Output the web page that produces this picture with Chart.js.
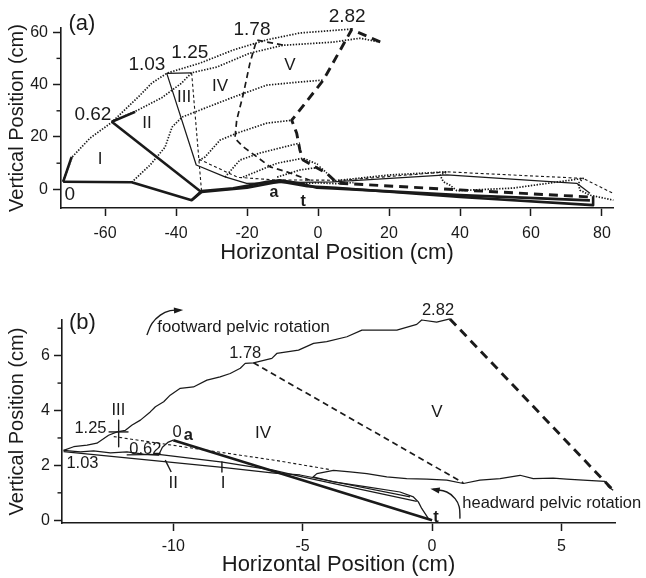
<!DOCTYPE html>
<html>
<head>
<meta charset="utf-8">
<script src="https://cdn.jsdelivr.net/npm/chart.js@4.4.0/dist/chart.umd.min.js"></script>
<style>
  body { margin: 0; background: #fff; }
  .panel { position: absolute; left: 0; }
</style>
</head>
<body>
<canvas id="chartA" class="panel" width="646" height="280" style="top:0"></canvas>
<canvas id="chartB" class="panel" width="646" height="298" style="top:280px"></canvas>
<script>
// ---- axis ticks ----
const xTicksA = [-60, -40, -20, 0, 20, 40, 60, 80];
const yTicksA = [0, 20, 40, 60];
const yMinorA = [10, 30, 50];
const xTicksB = [-10, -5, 0, 5];
const yTicksB = [0, 2, 4, 6];
const yMinorB = [1, 3, 5, 7];

// ---- panel (a): outlines at each frame time (cm) ----
const body000 = [[-71.8, 2.9], [-52.5, 2.7], [-35.6, -4.1], [-32.8, -1.0]];
const head000 = [[-71.8, 2.9], [-69.4, 12.4]];
const body062 = [[-58.1, 25.8], [-32.8, -1.1]];
const neck062 = [[-58.1, 25.8], [-51.5, 29.6]];
const tailLow1 = [[-35.6, -4.1], [-32.8, -0.6], [-23.9, 0.4], [-19.2, 1.6], [-14.4, 2.9], [-10.7, 3.5], [-5.1, 2.3], [-0.3, 0.6], [4.2, 0.4], [40, -2.2], [76.6, -4.2]];
const tailLow2 = [[-32.8, -1.0], [-20, 0.6], [-10.7, 3.0], [-3, 1.2], [5, 0.6], [40, -2.9], [77.5, -6.0], [77.5, -2.6]];
const frame103 = [[-35.6, 44.5], [-42.6, 44.3], [-34.3, 9.3], [-26.2, 4.8], [-20.1, 2.3], [-10, 2.6], [4.2, 2.9], [36.3, 5.5], [72.9, 2.3], [76.6, -1.5]];
const frame125 = [[-35.6, 44.5], [-32.8, -0.9]];
const frame125Tail = [[-33.5, 11.5], [-22.6, 4.6], [-12, 3.6], [7, 3.5], [36.3, 6.7], [74.7, 4.2], [83.1, -1.5]];
const frame178 = [[-9.9, 55.1], [-17.3, 57], [-19.2, 48.1], [-21.0, 36.6], [-22.9, 26.5], [-23.4, 19.5], [-21.1, 16.3], [-17.3, 12.5], [-13.5, 8.6], [-8.8, 6.7], [-2.3, 3.5]];
const frame282 = [[17.5, 56.3], [9.5, 61], [1.5, 41.7], [-7.4, 26.4], [-6, 21.4], [-5.1, 15], [-4.2, 11.2], [2.5, 6.1], [5.4, 2.4], [40, -0.2], [76.6, -2.9]];

// ---- panel (a): dotted point trajectories ----
const trackHead = [[-71.8, 3.1], [-69.3, 12.3], [-64.2, 19.6], [-58, 25.7], [-50.1, 36], [-46.8, 40.6], [-42.5, 44.4], [-33.2, 48.2], [-23.9, 53.2], [-14.4, 57.1], [-5.1, 59.7], [9.5, 61.2]];
const trackNeck = [[-58.1, 25.8], [-50.7, 30.3], [-44, 35], [-38.5, 40.5], [-35.6, 44.5], [-28.5, 46.7], [-19.2, 52], [-9.9, 55], [4.2, 56.2], [11.8, 57.7], [17.5, 56.2]];
const trackMid1 = [[-52.5, 2.7], [-47.3, 9.3], [-43.1, 16.1], [-41.1, 23.8], [-38.3, 27.6], [-33.2, 30.3], [-23.9, 35.2], [-14.4, 39.8], [-5.1, 41], [1.4, 41.7]];
const trackMid2 = [[-33.5, 11], [-31.8, 12.4], [-27.6, 18.8], [-22.8, 21.5], [-14.4, 25.3], [-7.3, 26.4]];
const trackMid3 = [[-26.2, 4.7], [-22, 11.2], [-16.3, 13.9], [-5.1, 17.7]];
const trackMid4 = [[-21.1, 4.7], [-11.5, 10], [-4.2, 11.9], [0, 9.5]];
const trackMid5 = [[-11.5, 4.7], [-5.1, 7.4], [0.6, 8.5], [2.5, 6.2]];
const trackBase = [[-5, 2.2], [0, 2.5], [5, 2.2], [10, 2.6]];
const trackFins = [[4, 3.2], [20, 5.5], [36.3, 6.7], [34.4, 5.4], [35.3, 2.9], [37.2, 1.6], [39.1, -0.5], [55, 0.5], [74.7, 4.2], [73.3, 2.3], [73.8, -0.3], [76.6, -2.2], [83.2, -4.1]];

// ---- panel (b): pelvis paths (cm) ----
const pelvisUpper = [[-14.24, 2.55], [-13.85, 2.68], [-13.33, 2.74], [-12.95, 2.81], [-12.5, 3.1], [-12.17, 3.22], [-11.85, 3.28],
  [-11.59, 3.47], [-11.27, 3.65], [-10.89, 3.95], [-10.69, 4.14], [-10.37, 4.32], [-10.12, 4.56], [-9.73, 4.81], [-9.22, 4.86],
  [-8.7, 5.11], [-8.19, 5.23], [-7.8, 5.35], [-7.41, 5.54], [-7.22, 5.72], [-6.9, 5.74], [-6.19, 5.9], [-6.0, 6.08], [-5.16, 6.2],
  [-4.58, 6.45], [-4.07, 6.51], [-3.29, 6.69], [-2.71, 6.93], [-2.14, 6.93], [-1.36, 6.93], [-0.59, 7.14], [-0.4, 7.3], [0.18, 7.22], [0.69, 7.34]];
const pelvisLower = [[-14.24, 2.55], [-13.59, 2.49], [-13.08, 2.53], [-12.43, 2.46], [-11.79, 2.49], [-11.15, 2.41], [-10.57, 2.37],
  [-10.42, 2.66], [-10.19, 2.85], [-10.0, 2.92]];
const pelvisReturn = [[0, 0], [-0.14, 0.06], [-0.4, 0.43], [-0.53, 0.67], [-0.72, 0.85], [-1.24, 1.03], [-2.52, 1.22], [-3.81, 1.4],
  [-4.6, 1.58], [-4.45, 1.7], [-3.81, 1.82], [-3.17, 1.76], [-2.52, 1.7], [-1.75, 1.58], [-0.98, 1.52], [-0.2, 1.5], [0.57, 1.46],
  [1.21, 1.34], [1.85, 1.46], [2.63, 1.52], [3.4, 1.64], [3.91, 1.52], [4.68, 1.54], [5.2, 1.5], [5.84, 1.46], [6.68, 1.42], [6.81, 1.22], [7.0, 1.09]];
const line062 = [[-11.8, 2.38], [-10.57, 2.4], [-8.1, 2.12], [-6.1, 1.82], [-5.1, 1.6], [-0.59, 0.69]];
const line103 = [[-14.24, 2.5], [-8.1, 1.93], [-6.1, 1.72], [-5.1, 1.65], [-0.85, 0.85]];
const line000 = [[-10.0, 2.92], [0, 0]];
const line125 = [[-12.3, 3.05], [-9.2, 2.62], [-6.1, 2.19], [-3.9, 1.84]];
const line178 = [[-6.9, 5.74], [1.21, 1.36]];
const line282 = [[0.69, 7.34], [7.0, 1.09]];
const markIII = [[-12.11, 3.65], [-12.11, 2.68]];
const markIIIh = [[-12.5, 3.22], [-11.73, 3.22]];
const markII = [[-10.31, 2.19], [-10.08, 1.76]];
const markI = [[-8.12, 2.13], [-8.12, 1.76]];
const footwardArc = [[-11.02, 6.75], [-10.82, 7.18], [-10.5, 7.48], [-10.12, 7.64], [-9.73, 7.66]];
const headwardArc = [[1.08, 0.06], [1.05, 0.49], [0.89, 0.79], [0.57, 1.03], [0.05, 1.13]];

const INK = '#1a1a1a';
const FONT = "'Liberation Sans', Arial, Helvetica, sans-serif";

const lineStyles = {
  thick: { borderWidth: 2.6, borderDash: [] },
  solid: { borderWidth: 1.25, borderDash: [] },
  mark: { borderWidth: 1.4, borderDash: [] },
  arc: { borderWidth: 1.4, borderDash: [], tension: 0.4 },
  dotted: { borderWidth: 1.7, borderDash: [1.4, 1.5] },
  dashThin: { borderWidth: 1.1, borderDash: [3, 2.5] },
  dashMid: { borderWidth: 1.7, borderDash: [6, 4] },
  dashThick: { borderWidth: 2.9, borderDash: [9, 6] }
};

function path(points, kind) {
  return Object.assign({
    data: points.map(p => ({ x: p[0], y: p[1] })),
    showLine: true, pointRadius: 0, borderColor: INK, tension: 0,
    clip: false, fill: false, borderCapStyle: 'butt', borderJoinStyle: 'round'
  }, lineStyles[kind]);
}

// text labels placed in data units
const notesA = [
  { t: '(a)', x: -66.5, y: 63.1, s: 22 },
  { t: '0.62', x: -63.4, y: 28.4, s: 19 },
  { t: '1.03', x: -48.2, y: 47.4, s: 19 },
  { t: '1.25', x: -36.1, y: 52.0, s: 19 },
  { t: '1.78', x: -18.6, y: 60.8, s: 19 },
  { t: '2.82', x: 8.2, y: 65.8, s: 19 },
  { t: '0', x: -69.9, y: -2.2, s: 19 },
  { t: 'I', x: -61.4, y: 11.6, s: 17 },
  { t: 'II', x: -48.2, y: 25.3, s: 17 },
  { t: 'III', x: -37.7, y: 35.2, s: 17 },
  { t: 'IV', x: -27.6, y: 39.4, s: 17 },
  { t: 'V', x: -7.9, y: 47.4, s: 17 },
  { t: 'a', x: -12.4, y: -1.4, s: 16, b: true },
  { t: 't', x: -4.2, y: -4.8, s: 16, b: true }
];
const notesB = [
  { t: '(b)', x: -13.51, y: 7.19, s: 22 },
  { t: 'footward pelvic rotation', x: -10.62, y: 7.04, s: 16.8, a: 'left' },
  { t: '2.82', x: 0.23, y: 7.63, s: 16.5 },
  { t: '1.78', x: -7.22, y: 6.09, s: 16.5 },
  { t: '1.25', x: -13.2, y: 3.36, s: 16.5 },
  { t: 'III', x: -12.12, y: 4.01, s: 16.5 },
  { t: '1.03', x: -13.51, y: 2.08, s: 16.5 },
  { t: '0.62', x: -11.08, y: 2.59, s: 16.5 },
  { t: '0', x: -9.85, y: 3.21, s: 16.5 },
  { t: 'a', x: -9.42, y: 3.1, s: 16.5, b: true },
  { t: 'IV', x: -6.53, y: 3.18, s: 17 },
  { t: 'V', x: 0.19, y: 3.94, s: 17 },
  { t: 'II', x: -10.0, y: 1.35, s: 17 },
  { t: 'I', x: -8.07, y: 1.35, s: 17 },
  { t: 't', x: 0.15, y: 0.11, s: 16.5, b: true },
  { t: 'headward pelvic rotation', x: 1.17, y: 0.62, s: 16.5, a: 'left' }
];

// draws labels, minor ticks and arrow heads on top of the lines
function overlay(notes, minorY, arrows) {
  return {
    id: 'overlay',
    afterDatasetsDraw(chart) {
      const ctx = chart.ctx, xs = chart.scales.x, ys = chart.scales.y;
      ctx.save();
      ctx.fillStyle = INK;
      ctx.strokeStyle = INK;
      ctx.textBaseline = 'middle';
      notes.forEach(n => {
        ctx.font = (n.b ? 'bold ' : '') + n.s + 'px ' + FONT;
        ctx.textAlign = n.a || 'center';
        ctx.fillText(n.t, xs.getPixelForValue(n.x), ys.getPixelForValue(n.y));
      });
      ctx.lineWidth = 1.4;
      minorY.forEach(v => {
        const py = ys.getPixelForValue(v);
        ctx.beginPath();
        ctx.moveTo(chart.chartArea.left - 4.5, py);
        ctx.lineTo(chart.chartArea.left, py);
        ctx.stroke();
      });
      arrows.forEach(pts => {
        const n = pts.length;
        const x1 = xs.getPixelForValue(pts[n - 2][0]), y1 = ys.getPixelForValue(pts[n - 2][1]);
        const x2 = xs.getPixelForValue(pts[n - 1][0]), y2 = ys.getPixelForValue(pts[n - 1][1]);
        const ang = Math.atan2(y2 - y1, x2 - x1);
        ctx.beginPath();
        ctx.moveTo(x2 + Math.cos(ang) * 3, y2 + Math.sin(ang) * 3);
        ctx.lineTo(x2 - Math.cos(ang - 0.45) * 7, y2 - Math.sin(ang - 0.45) * 7);
        ctx.lineTo(x2 - Math.cos(ang + 0.45) * 7, y2 - Math.sin(ang + 0.45) * 7);
        ctx.closePath();
        ctx.fill();
      });
      ctx.restore();
    }
  };
}

function axes(xRange, yRange, xTicks, yTicks, xHeight, yWidth, xPad, yPad) {
  const tickFont = { family: FONT, size: 16 };
  return {
    x: {
      type: 'linear', min: xRange[0], max: xRange[1],
      afterBuildTicks: s => { s.ticks = xTicks.map(v => ({ value: v })); },
      afterFit: s => { s.height = xHeight; },
      grid: { drawOnChartArea: false, tickLength: 8, tickWidth: 1.5, tickColor: INK },
      border: { color: INK, width: 1.6 },
      ticks: { color: INK, font: tickFont, padding: xPad, maxRotation: 0, autoSkip: false, callback: v => String(v) },
      title: { display: true, text: 'Horizontal Position (cm)', color: INK, font: { family: FONT, size: 22 }, padding: 0 }
    },
    y: {
      type: 'linear', min: yRange[0], max: yRange[1],
      afterBuildTicks: s => { s.ticks = yTicks.map(v => ({ value: v })); },
      afterFit: s => { s.width = yWidth; },
      grid: { drawOnChartArea: false, tickLength: 8, tickWidth: 1.5, tickColor: INK },
      border: { color: INK, width: 1.6 },
      ticks: { color: INK, font: tickFont, padding: yPad, autoSkip: false, callback: v => String(v) },
      title: { display: true, text: 'Vertical Position (cm)', color: INK, font: { family: FONT, size: 20 }, padding: { top: 5, bottom: 0 } }
    }
  };
}

const baseOptions = {
  responsive: false, animation: false,
  plugins: { legend: { display: false }, tooltip: { enabled: false } }
};

new Chart(document.getElementById('chartA'), {
  type: 'scatter',
  data: {
    datasets: [
      path(trackHead, 'dotted'), path(trackNeck, 'dotted'), path(trackMid1, 'dotted'),
      path(trackMid2, 'dotted'), path(trackMid3, 'dotted'), path(trackMid4, 'dotted'),
      path(trackMid5, 'dotted'), path(trackBase, 'dotted'), path(trackFins, 'dotted'),
      path(frame103, 'solid'), path(frame125, 'dashThin'), path(frame125Tail, 'dashThin'),
      path(frame178, 'dashMid'), path(frame282, 'dashThick'),
      path(body000, 'thick'), path(head000, 'thick'), path(body062, 'thick'), path(neck062, 'thick'),
      path(tailLow1, 'thick'), path(tailLow2, 'thick')
    ]
  },
  options: Object.assign({}, baseOptions, {
    layout: { padding: { left: 0, right: 33, top: 28, bottom: 14 } },
    scales: axes([-72.4, 83.1], [-7.1, 61.6], xTicksA, yTicksA, 58, 61, 8, 5)
  }),
  plugins: [overlay(notesA, yMinorA, [])]
});

new Chart(document.getElementById('chartB'), {
  type: 'scatter',
  data: {
    datasets: [
      path(pelvisUpper, 'solid'), path(pelvisLower, 'solid'), path(pelvisReturn, 'solid'),
      path(line062, 'solid'), path(line103, 'solid'), path(line000, 'thick'),
      path(line125, 'dashThin'), path(line178, 'dashMid'), path(line282, 'dashThick'),
      path(markIII, 'mark'), path(markIIIh, 'mark'), path(markII, 'mark'), path(markI, 'mark'),
      path(footwardArc, 'arc'), path(headwardArc, 'arc')
    ]
  },
  options: Object.assign({}, baseOptions, {
    layout: { padding: { left: 0, right: 31, top: 40, bottom: 0 } },
    scales: axes([-14.3, 7.07], [-0.1, 7.3], xTicksB, yTicksB, 55, 62, 6, 4)
  }),
  plugins: [overlay(notesB, yMinorB, [footwardArc, headwardArc])]
});
</script>
</body>
</html>
